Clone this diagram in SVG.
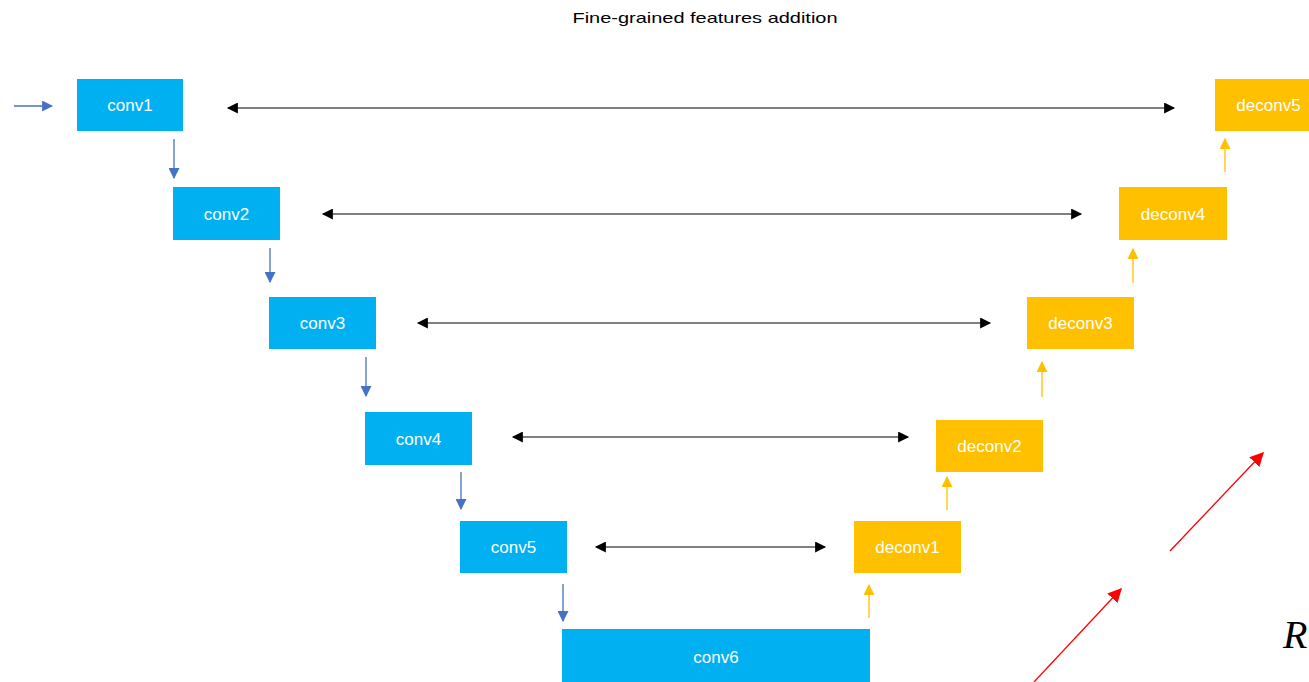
<svg xmlns="http://www.w3.org/2000/svg" width="1309" height="682" viewBox="0 0 1309 682">
<defs>
<marker id="ab" viewBox="0 0 10 10" refX="9" refY="5" markerWidth="11" markerHeight="11" markerUnits="userSpaceOnUse" orient="auto"><path d="M0,0 L10,5 L0,10 z" fill="#4472C4"/></marker>
<marker id="ao" viewBox="0 0 10 10" refX="9" refY="5" markerWidth="11" markerHeight="11" markerUnits="userSpaceOnUse" orient="auto"><path d="M0,0 L10,5 L0,10 z" fill="#FFC000"/></marker>
<marker id="ak" viewBox="0 0 10 10" refX="9" refY="5" markerWidth="12" markerHeight="11" markerUnits="userSpaceOnUse" orient="auto-start-reverse"><path d="M0,0 L10,5 L0,10 z" fill="#000"/></marker>
<marker id="ar" viewBox="0 0 10 10" refX="9" refY="5" markerWidth="14" markerHeight="14" markerUnits="userSpaceOnUse" orient="auto"><path d="M0,0 L10,5 L0,10 z" fill="#FF0000"/></marker>
</defs>
<style>
.c{fill:#00B0F0}
.d{fill:#FFC000}
.t{font-family:"Liberation Sans",Arial,sans-serif;font-size:17px;fill:#fff;text-anchor:middle}
.b{stroke:#4472C4;stroke-width:1.3;fill:none;marker-end:url(#ab)}
.o{stroke:#FFC000;stroke-width:1.3;fill:none;marker-end:url(#ao)}
.k{stroke:#000;stroke-width:1.2;fill:none;marker-end:url(#ak);marker-start:url(#ak)}
.r{stroke:#FF0000;stroke-width:1.3;fill:none;marker-end:url(#ar)}
</style>
<rect width="1309" height="682" fill="#fff"/>
<text x="705" y="23" font-family="Liberation Sans,Arial,sans-serif" font-size="15" fill="#000" text-anchor="middle" textLength="265" lengthAdjust="spacingAndGlyphs">Fine-grained features addition</text>
<g id="conv1"><rect class="c" x="77" y="79" width="106" height="52"/><text class="t" x="130" y="111">conv1</text></g>
<g id="conv2"><rect class="c" x="173" y="187" width="107" height="53"/><text class="t" x="226.5" y="220">conv2</text></g>
<g id="conv3"><rect class="c" x="269" y="297" width="107" height="52"/><text class="t" x="322.5" y="329">conv3</text></g>
<g id="conv4"><rect class="c" x="365" y="412" width="107" height="53"/><text class="t" x="418.5" y="445">conv4</text></g>
<g id="conv5"><rect class="c" x="460" y="521" width="107" height="52"/><text class="t" x="513.5" y="553">conv5</text></g>
<g id="conv6"><rect class="c" x="562" y="629" width="308" height="55"/><text class="t" x="716" y="663">conv6</text></g>
<g id="deconv1"><rect class="d" x="854" y="521" width="107" height="52"/><text class="t" x="907.5" y="553">deconv1</text></g>
<g id="deconv2"><rect class="d" x="936" y="420" width="107" height="52"/><text class="t" x="989.5" y="452">deconv2</text></g>
<g id="deconv3"><rect class="d" x="1027" y="297" width="107" height="52"/><text class="t" x="1080.5" y="329">deconv3</text></g>
<g id="deconv4"><rect class="d" x="1119" y="187" width="108" height="53"/><text class="t" x="1173" y="220">deconv4</text></g>
<g id="deconv5"><rect class="d" x="1215" y="79" width="107" height="52"/><text class="t" x="1268.5" y="111">deconv5</text></g>
<g id="connectors">
<line class="b" x1="14" y1="106" x2="52" y2="106"/>
<line class="b" x1="174" y1="139" x2="174" y2="178"/>
<line class="b" x1="270" y1="248" x2="270" y2="282"/>
<line class="b" x1="366" y1="357" x2="366" y2="396"/>
<line class="b" x1="461" y1="472" x2="461" y2="509"/>
<line class="b" x1="563" y1="584" x2="563" y2="621"/>
<line class="o" x1="869" y1="618" x2="869" y2="585"/>
<line class="o" x1="947" y1="510" x2="947" y2="477"/>
<line class="o" x1="1042" y1="397" x2="1042" y2="362"/>
<line class="o" x1="1133" y1="283" x2="1133" y2="249"/>
<line class="o" x1="1225" y1="172" x2="1225" y2="139"/>
<line class="k" x1="228" y1="108" x2="1174" y2="108"/>
<line class="k" x1="323" y1="214" x2="1081" y2="214"/>
<line class="k" x1="418" y1="323" x2="990" y2="323"/>
<line class="k" x1="513" y1="437" x2="908" y2="437"/>
<line class="k" x1="596" y1="547" x2="825" y2="547"/>
<line class="r" x1="1034" y1="682" x2="1121" y2="589"/>
<line class="r" x1="1170" y1="551" x2="1263" y2="453"/>
</g>
<text x="1283" y="648" font-family="Liberation Serif,serif" font-style="italic" font-size="40" fill="#000">R</text>
</svg>
